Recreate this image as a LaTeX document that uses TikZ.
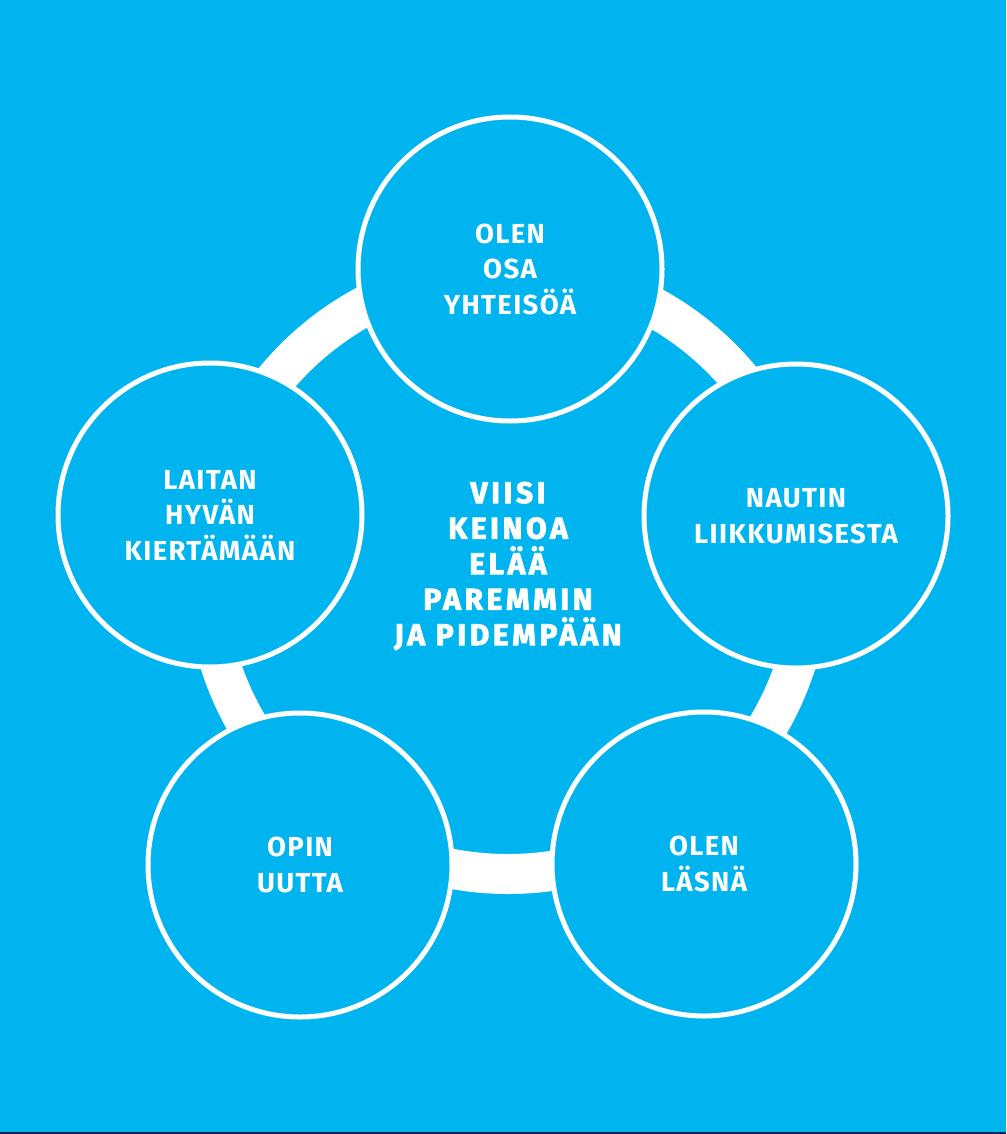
\documentclass[tikz,border=0pt]{standalone}
\usepackage{fontspec}
\setmainfont{Fira Sans}
\usepackage{tikz}
\usetikzlibrary{positioning}
\definecolor{KeinoBlue}{RGB}{0,181,239}
\definecolor{KeinoNavy}{RGB}{8,38,84}
\newfontfamily\ympyrafont[LetterSpace=5]{Fira Sans}
\newfontfamily\keskifont[LetterSpace=12,FakeBold=2.6]{Fira Sans}
\tikzset{
    keino/.style={circle, draw=white, fill=KeinoBlue, line width=5pt, minimum size=304pt, inner sep=0pt, text=white, align=center, font=\ympyrafont\bfseries\fontsize{27.5}{35.5}\selectfont}
}

\begin{document}
\begin{tikzpicture}[
        x=1pt, y=-1pt,
        % --- RENGAS ---
        rengas/.style={
            circle,
            draw=white,
            line width=40pt,
            minimum size=604pt,
            inner sep=0pt
        },
        % --- KESKIOTSIKKO ---
        otsikko/.style={
            text=white,
            align=center,
            inner sep=0pt,
            font=\keskifont\bfseries\fontsize{30}{35.5}\selectfont
        }
    ]

        % --- TAUSTA ---
        \useasboundingbox (0,0) rectangle (1006,1134);
        \fill[KeinoBlue] (0,0) rectangle (1006,1134);
        \fill[KeinoNavy] (0,1132) rectangle (1006,1134);

        % --- VALKOINEN RENGAS ---
        \node[rengas] (ring) at (508,572) {};

        % --- VIISI YMPYRÄÄ ---
        \node[keino] (osa) at (510,269) {OLEN\\OSA\\YHTEISÖÄ};
        \node[keino] (nautin) at (796,516) {NAUTIN\\LIIKKUMISESTA};
        \node[keino] (lasna) at (704,864) {OLEN\\LÄSNÄ};
        \node[keino] (opin) at (300,865) {OPIN\\UUTTA};
        \node[keino] (laitan) at (210,515) {LAITAN\\HYVÄN\\KIERTÄMÄÄN};

        % --- KESKUS ---
        \node[otsikko] (keskus) at (508,566) {VIISI\\KEINOA\\ELÄÄ\\PAREMMIN\\JA PIDEMPÄÄN};

    \end{tikzpicture}
\end{document}
